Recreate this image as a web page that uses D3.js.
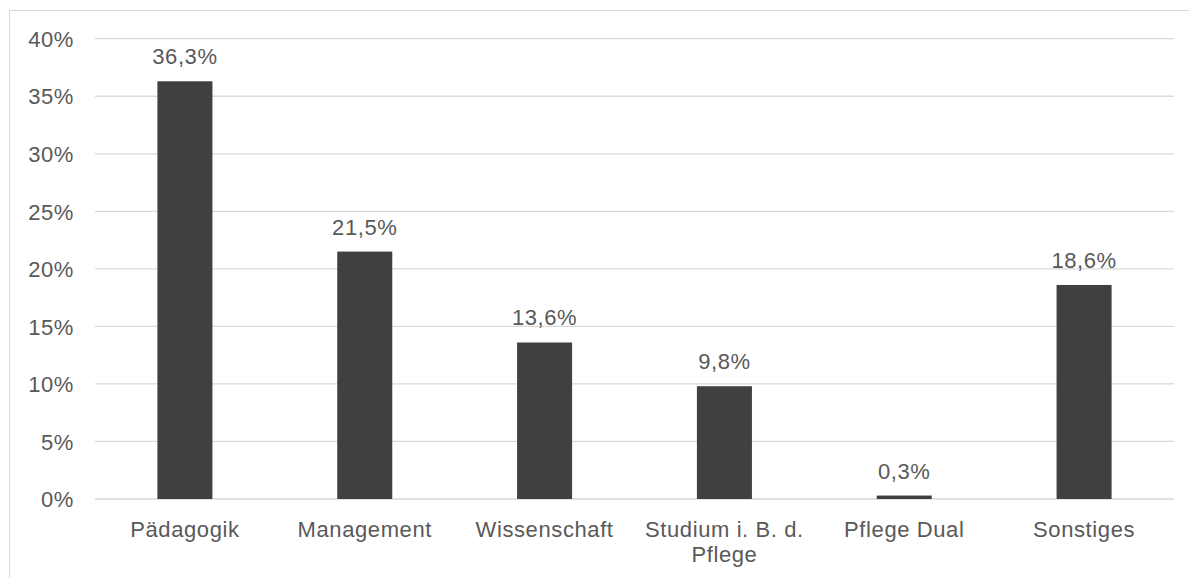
<!DOCTYPE html>
<html>
<head>
<meta charset="utf-8">
<script src="https://cdn.jsdelivr.net/npm/d3@7"></script>
<style>
  html, body { margin: 0; padding: 0; background: #fff; }
  svg { display: block; }
  text { font-family: "Liberation Sans", Arial, sans-serif; fill: #595959; letter-spacing: 0.6px; }
</style>
</head>
<body>
<svg id="chart" width="1189" height="578"></svg>
<script>
// Share of responses per field (percent)
const categories = [["Pädagogik"], ["Management"], ["Wissenschaft"], ["Studium i. B. d.", "Pflege"], ["Pflege Dual"], ["Sonstiges"]];
const values = [36.3, 21.5, 13.6, 9.8, 0.3, 18.6];
const valueLabels = ["36,3%", "21,5%", "13,6%", "9,8%", "0,3%", "18,6%"];
const yTicks = [0, 5, 10, 15, 20, 25, 30, 35, 40];

const svg = d3.select("#chart");
const W = 1189, H = 578;
const plot = { left: 95, right: 1174, top: 38.7, bottom: 499 };
const fontSize = 22;

// Outer chart frame
svg.append("rect")
  .attr("x", 9.5).attr("y", 10.5)
  .attr("width", W + 20).attr("height", H + 20)
  .attr("fill", "none").attr("stroke", "#d9d9d9").attr("stroke-width", 1);

const keys = categories.map(c => c.join(" "));
const x = d3.scaleBand().domain(keys).range([plot.left, plot.right]).paddingInner(0.694).paddingOuter(0.347);
const y = d3.scaleLinear().domain([0, 40]).range([plot.bottom, plot.top]);

// Gridlines
svg.append("g").selectAll("line").data(yTicks).join("line")
  .attr("x1", plot.left).attr("x2", plot.right)
  .attr("y1", d => y(d)).attr("y2", d => y(d))
  .attr("stroke", "#d9d9d9").attr("stroke-width", 1.3);

// Y axis labels
const yAxis = d3.axisLeft(y).tickValues(yTicks).tickFormat(d => d + "%").tickSize(0).tickPadding(21);
const gy = svg.append("g").attr("transform", `translate(${plot.left},0)`).call(yAxis);
gy.select(".domain").remove();
gy.selectAll("text").attr("font-size", fontSize).attr("font-family", null).style("fill", "#595959").attr("dy", "0.35em");

// Bars
svg.append("g").selectAll("rect").data(values).join("rect")
  .attr("x", (d, i) => x(keys[i]))
  .attr("width", x.bandwidth())
  .attr("y", d => y(d))
  .attr("height", d => y(0) - y(d))
  .attr("fill", "#404040");

// Value labels
svg.append("g").selectAll("text").data(values).join("text")
  .attr("x", (d, i) => x(keys[i]) + x.bandwidth() / 2)
  .attr("y", d => y(d) - 17)
  .attr("text-anchor", "middle")
  .attr("font-size", fontSize)
  .text((d, i) => valueLabels[i]);

// Category labels (may wrap onto two lines)
const xl = svg.append("g").selectAll("text").data(categories).join("text")
  .attr("x", (d, i) => x(keys[i]) + x.bandwidth() / 2)
  .attr("y", 537)
  .attr("text-anchor", "middle")
  .attr("font-size", fontSize);
xl.selectAll("tspan").data(d => d).join("tspan")
  .attr("x", function () { return this.parentNode.getAttribute("x"); })
  .attr("dy", (d, j) => j === 0 ? 0 : 24.5)
  .text(d => d);
</script>
</body>
</html>
